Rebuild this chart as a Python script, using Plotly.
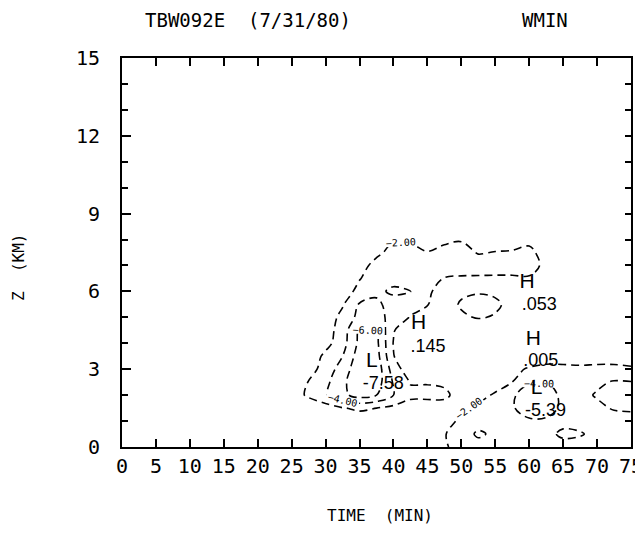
import plotly.graph_objects as go

# ---- data ----
time_min = [20, 22.5, 25, 27.5, 30, 32.5, 35, 37.5, 40, 42.5, 45, 47.5,
            50, 52.5, 55, 57.5, 60, 62.5, 65, 67.5, 70, 72.5, 75]
height_km = [0, 0.5, 1.0, 1.5, 2.0, 2.5, 3.0, 3.5, 4.0, 4.5, 5.0, 5.5,
             6.0, 6.5, 7.0, 7.5, 8.0, 8.5, 9.0]

# WMIN field, one row per height, one value per time
wmin = [
    [0, 0, 0, 0, 0, -0.3, -0.4, -0.4, -0.3, -0.2, -0.5, -1.8, -2.6, -3.0, -3.0, -2.9, -3.0, -3.2, -3.2, -3.1, -3.0, -2.8, -2.6],
    [0, 0, 0, 0, 0, -0.4, -0.6, -0.6, -0.4, -0.3, -0.6, -1.9, -2.8, -4.4, -3.5, -3.0, -3.0, -3.4, -4.4, -4.2, -3.4, -3.0, -2.8],
    [0, 0, 0, 0, -0.3, -0.8, -1.0, -0.9, -0.6, -0.4, -0.6, -1.4, -2.3, -3.0, -3.0, -3.2, -3.7, -3.7, -3.4, -3.2, -3.0, -3.0, -3.0],
    [0, 0, 0, -0.3, -1.0, -1.9, -2.3, -2.0, -1.5, -1.2, -1.2, -1.0, -1.8, -2.3, -2.6, -3.8, -5.0, -4.8, -3.6, -3.2, -3.5, -4.2, -4.4],
    [0, 0, -0.8, -2.4, -3.8, -5.5, -6.8, -6.0, -4.0, -2.4, -2.4, -2.5, -1.0, -1.5, -2.2, -3.6, -5.4, -5.0, -3.5, -3.4, -4.2, -4.6, -4.5],
    [0, 0, -0.5, -2.1, -3.5, -5.5, -7.6, -7.0, -3.8, -1.9, -1.9, -1.6, -0.5, -0.8, -1.3, -2.0, -3.8, -4.1, -3.2, -3.0, -3.6, -4.2, -4.1],
    [0, 0, -0.3, -1.0, -3.0, -4.8, -7.5, -7.3, -3.0, -0.8, 0, 0, 0, -0.3, -0.8, -1.3, -2.3, -2.5, -2.4, -2.3, -2.4, -2.4, -2.2],
    [0, 0, 0, -0.6, -2.5, -4.0, -7.0, -6.8, -2.1, 0, 0, 0, 0, 0, -0.3, -0.5, -0.2, -1.2, -1.3, -1.3, -1.3, -1.3, -1.3],
    [0, 0, 0, -0.3, -1.3, -3.2, -6.5, -6.5, -1.9, 0.14, 0, 0, 0, 0, 0, 0, 0.005, -0.3, -0.5, -0.5, -0.5, -0.5, -0.5],
    [0, 0, 0, 0, -1.0, -3.0, -6.2, -6.0, -2.2, 0.1, 0, 0, 0, 0, 0, 0, 0, 0, 0, 0, 0, 0, 0],
    [0, 0, 0, 0, -0.8, -2.6, -4.6, -5.0, -3.0, -1.9, -1.0, -0.6, -1.6, -2.2, -1.8, -0.8, 0, 0, 0, 0, 0, 0, 0],
    [0, 0, 0, 0, -0.5, -1.8, -4.2, -4.5, -3.0, -2.6, -2.1, -0.8, -2.3, -2.8, -2.4, -1.3, -0.3, 0, 0, 0, 0, 0, 0],
    [0, 0, 0, 0, -0.3, -1.0, -2.6, -3.5, -4.4, -4.1, -2.2, -1.5, -1.5, -1.8, -1.6, -0.8, 0.05, 0, 0, 0, 0, 0, 0],
    [0, 0, 0, 0, 0, -0.8, -1.9, -3.0, -3.3, -3.0, -2.6, -1.95, -1.8, -1.8, -1.8, -1.8, -1.8, -1.0, 0, 0, 0, 0, 0],
    [0, 0, 0, 0, 0, -0.8, -1.3, -2.6, -3.0, -3.0, -2.9, -2.8, -2.8, -2.7, -2.6, -2.6, -2.8, -1.5, -0.3, 0, 0, 0, 0],
    [0, 0, 0, 0, 0, -0.3, -1.0, -1.6, -2.6, -2.5, -2.05, -2.3, -2.5, -1.9, -2.05, -2.1, -2.4, -1.3, 0, 0, 0, 0, 0],
    [0, 0, 0, 0, 0, 0, -0.4, -1.2, -1.9, -1.8, -1.5, -1.8, -1.9, -1.5, -1.4, -1.5, -1.6, -0.8, 0, 0, 0, 0, 0],
    [0, 0, 0, 0, 0, 0, 0, -0.5, -1.0, -0.9, -0.7, -0.8, -0.9, -0.6, -0.5, -0.6, -0.6, -0.3, 0, 0, 0, 0, 0],
    [0, 0, 0, 0, 0, 0, 0, 0, 0, 0, 0, 0, 0, 0, 0, 0, 0, 0, 0, 0, 0, 0, 0],
]

# extrema markers (H / L) and their values
extrema_kind = ["L", "H", "H", "H", "L"]
extrema_time = [36.8, 43.7, 59.7, 60.6, 61.1]
extrema_z = [3.3, 4.75, 6.35, 4.15, 2.25]
extrema_value = ["-7.58", ".145", ".053", ".005", "-5.39"]
value_time = [38.5, 45.1, 61.5, 61.7, 62.4]
value_z = [2.4, 3.85, 5.45, 3.3, 1.35]

x_ticks = list(range(0, 80, 5))
z_ticks = [0, 3, 6, 9, 12, 15]
z_minor_ticks = list(range(0, 16))

FONT = "DejaVu Sans Mono"

fig = go.Figure()

fig.add_trace(go.Contour(
    x=time_min, y=height_km, z=wmin,
    contours=dict(start=-6, end=-2, size=2, coloring="none",
                  showlabels=True,
                  labelfont=dict(family=FONT, size=10, color="black"),
                  labelformat=".2f"),
    line=dict(color="black", width=1.6, dash="8px,5px", smoothing=1.0),
    showscale=False, hoverinfo="skip",
))

fig.add_trace(go.Scatter(
    x=extrema_time, y=extrema_z, mode="text", text=extrema_kind,
    textfont=dict(family="Liberation Sans", size=21, color="black"),
    hoverinfo="skip", showlegend=False,
))
fig.add_trace(go.Scatter(
    x=value_time, y=value_z, mode="text", text=extrema_value,
    textfont=dict(family="Liberation Sans", size=18, color="black"),
    hoverinfo="skip", showlegend=False,
))
# invisible trace carrying the right-hand tick axis
fig.add_trace(go.Scatter(x=[None], y=[None], yaxis="y2", mode="lines",
                         hoverinfo="skip", showlegend=False))

axis_common = dict(
    showline=True, linecolor="black", linewidth=2, automargin=False,
    ticks="inside", tickcolor="black", tickwidth=1.5,
    showgrid=False, zeroline=False,
    tickfont=dict(family=FONT, size=20, color="black"),
)

fig.update_xaxes(range=[0, 75], tickvals=x_ticks, ticklen=8, mirror="ticks",
                 ticklabelstandoff=0, ticklabeloverflow="allow",
                 **axis_common)
fig.update_yaxes(range=[0, 15], tickvals=z_ticks, ticklen=9, mirror=True,
                 ticklabelstandoff=16,
                 minor=dict(tickvals=z_minor_ticks, ticks="inside", ticklen=6,
                            tickcolor="black", tickwidth=1.5),
                 **axis_common)

# the page body adds an 8px offset, so the figure is sized to fit the window
fig.update_layout(
    yaxis2=dict(overlaying="y", side="right", anchor="x", range=[0, 15],
                tickvals=z_minor_ticks, ticks="inside", ticklen=6,
                tickcolor="black", tickwidth=1.5, showticklabels=False,
                showgrid=False, zeroline=False, showline=True,
                linecolor="black", linewidth=2, automargin=False),
    width=627, height=523,
    margin=dict(l=114, r=4, t=50, b=84, autoexpand=False),
    paper_bgcolor="white", plot_bgcolor="white",
    showlegend=False,
    annotations=[
        dict(text="TBW092E  (7/31/80)", xref="paper", yref="paper",
             x=(248 - 122) / 509, y=1 + (58 - 20) / 389, xanchor="center",
             yanchor="middle", showarrow=False,
             font=dict(family=FONT, size=19, color="black")),
        dict(text="WMIN", xref="paper", yref="paper",
             x=(545 - 122) / 509, y=1 + (58 - 20) / 389, xanchor="center",
             yanchor="middle", showarrow=False,
             font=dict(family=FONT, size=19, color="black")),
        dict(text="TIME  (MIN)", xref="paper", yref="paper",
             x=(380 - 122) / 509, y=-(515 - 447) / 389, xanchor="center",
             yanchor="middle", showarrow=False,
             font=dict(family=FONT, size=16, color="black")),
        dict(text="Z  (KM)", xref="paper", yref="paper",
             x=(18 - 122) / 509, y=(447 - 268) / 389, xanchor="center",
             yanchor="middle", showarrow=False, textangle=-90,
             font=dict(family=FONT, size=16, color="black")),
    ],
)

fig.write_html("out.html")
